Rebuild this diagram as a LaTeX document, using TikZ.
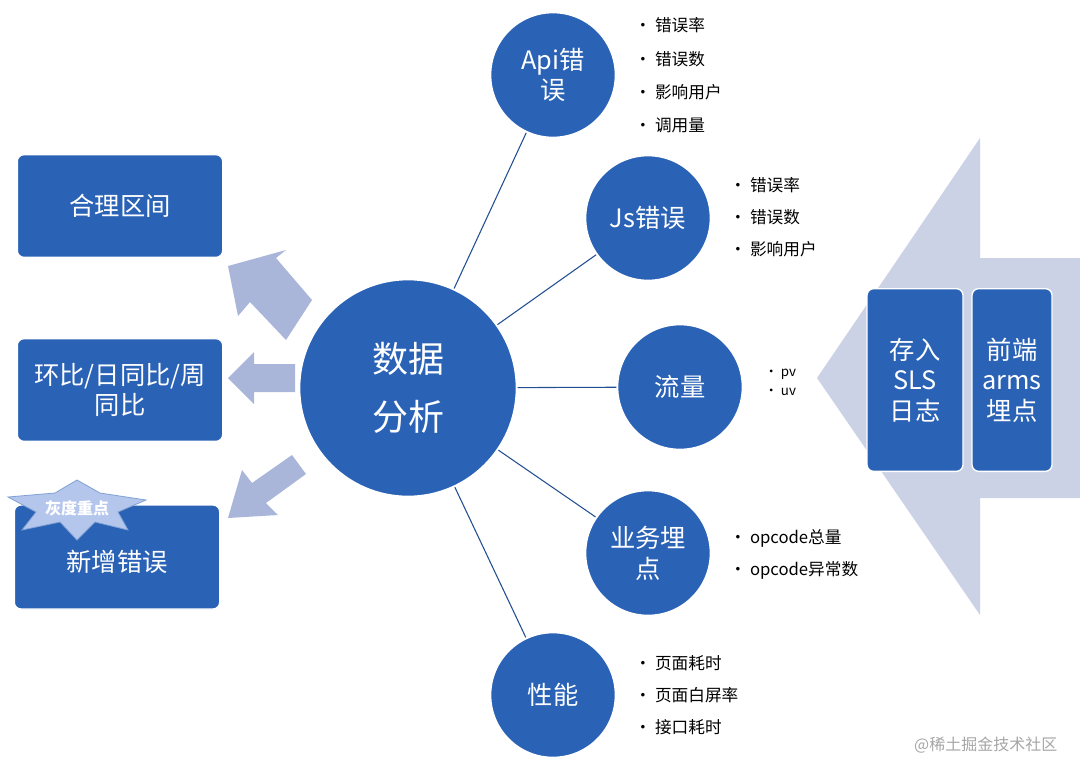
\documentclass[tikz,border=0pt]{standalone}
\usepackage{fontspec}
\setmainfont{Noto Sans CJK SC}
\usetikzlibrary{positioning}
\definecolor{nodeblue}{HTML}{2A62B6}
\definecolor{bigarrow}{HTML}{CBD2E6}
\definecolor{smallarrow}{HTML}{A9B5D9}
\definecolor{starfill}{HTML}{B4C6EC}
\tikzset{
  topic/.style={circle,fill=nodeblue,draw=white,line width=1.5pt,text=white,align=center,font=\fontsize{19}{23}\selectfont},
  panel/.style={rounded corners=5pt,fill=nodeblue,draw=white,line width=1pt,text=white,align=center,font=\fontsize{19}{23}\selectfont},
  item/.style={anchor=west,font=\fontsize{12.5}{14}\selectfont,inner sep=1pt},
  spoke/.style={draw=nodeblue!80!black,line width=0.8pt},
  fatarrow/.style={fill=smallarrow}
}
\begin{document}
\begin{tikzpicture}[x=0.75pt,y=-0.75pt]
  \useasboundingbox (0,0) rectangle (1080,776);
  % big arrow on the right
  \fill[bigarrow] (817,378) -- (980,138) -- (980,258) -- (1080,258) -- (1080,498) -- (980,498) -- (980,615) -- cycle;
  \node[panel,minimum width=72pt,minimum height=137pt] (sls) at (915,380) {存入\\SLS\\日志};
  \node[panel,minimum width=60pt,minimum height=137pt] (arms) at (1012,380) {前端\\arms\\埋点};
  % centre and topics
  \node[topic,minimum size=163pt,font=\fontsize{27}{44}\selectfont] (data) at (408,388) {数据\\分析};
  \begin{scope}[every node/.style={topic,minimum size=94pt}]
  \node (api) at (553,75) {Api错\\误};
  \node (js) at (648,218) {Js错误};
  \node (flow) at (680,387) {流量};
  \node (biz) at (648,553) {业务埋\\点};
  \node (perf) at (553,695) {性能};
  \end{scope}
  \begin{scope}[every path/.style={spoke}]
  \path (data) edge (api);
  \path (data) edge (js);
  \path (data) edge (flow);
  \path (data) edge (biz);
  \path (data) edge (perf);
  \end{scope}
  % bullet lists
  \node[item] (api1) at (633,25) {• 错误率};
  \node[item] (api2) at (633,59) {• 错误数};
  \node[item] (api3) at (633,92) {• 影响用户};
  \node[item] (api4) at (633,125) {• 调用量};
  \node[item] (js1) at (728,185) {• 错误率};
  \node[item] (js2) at (728,217) {• 错误数};
  \node[item] (js3) at (728,249) {• 影响用户};
  \node[item,font=\fontsize{10}{11}\selectfont] (pv) at (763,374) {• pv};
  \node[item,font=\fontsize{10}{11}\selectfont] (uv) at (763,392) {• uv};
  \node[item] (op1) at (728,538) {• opcode总量};
  \node[item] (op2) at (728,570) {• opcode异常数};
  \node[item] (perf1) at (633,663) {• 页面耗时};
  \node[item] (perf2) at (633,695) {• 页面白屏率};
  \node[item] (perf3) at (633,727) {• 接口耗时};
  % left panels
  \node[panel,minimum width=154pt,minimum height=77pt] (range) at (120,206) {合理区间};
  \node[panel,minimum width=154pt,minimum height=77pt] (ratio) at (120,390) {环比/日同比/周\\同比};
  \node[panel,minimum width=154pt,minimum height=78pt] (newerr) at (117,557) {\\新增错误};
  % small arrows
  \fill[fatarrow] (312,300) -- (276,258) -- (286,250) -- (228,266) -- (238,316) -- (250,302) -- (286,340) -- cycle;
  \fill[fatarrow] (295,364) -- (254,364) -- (254,352) -- (228,378) -- (254,404) -- (254,392) -- (295,392) -- cycle;
  \fill[fatarrow] (292,455) -- (252,483) -- (242,470) -- (228,518) -- (278,515) -- (266,503) -- (306,474) -- cycle;
  % star label
  \fill[starfill,draw=nodeblue!60,line width=0.6pt] (8,497) -- (55,493) -- (77,480) -- (100,493) -- (146,500) -- (118,512) -- (128,530) -- (95,522) -- (77,540) -- (60,522) -- (22,530) -- (36,512) -- cycle;
  \node[text=white,font=\fontsize{12}{14}\bfseries\selectfont] (gray) at (77,508) {灰度重点};
  % watermark
  \node[text=gray!70,font=\fontsize{12}{14}\selectfont,anchor=east] (mark) at (1062,745) {@稀土掘金技术社区};
\end{tikzpicture}
\end{document}
